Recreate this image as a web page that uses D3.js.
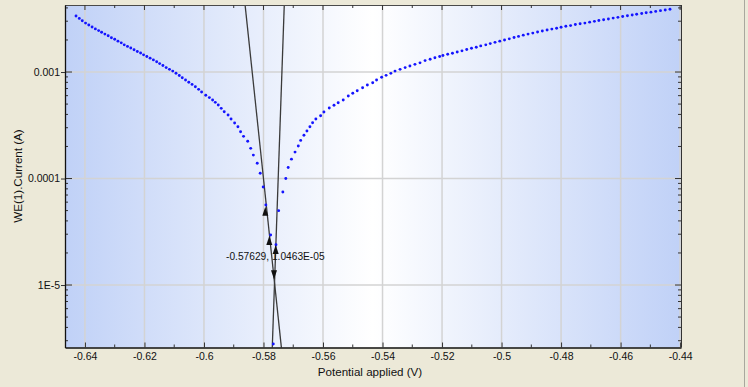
<!DOCTYPE html>
<html><head><meta charset="utf-8">
<script src="https://cdn.jsdelivr.net/npm/d3@7"></script>
<style>html,body{margin:0;padding:0;background:#ece9d8;overflow:hidden}svg{display:block}</style>
</head><body><svg id="c" width="748" height="387"></svg>
<script>
// Potential applied (V)
const potentials = [
-0.6430,-0.6419,-0.6409,-0.6398,-0.6387,-0.6376,-0.6365,-0.6354,-0.6344,-0.6333,
-0.6322,-0.6311,-0.6300,-0.6289,-0.6278,-0.6268,-0.6257,-0.6246,-0.6235,-0.6224,
-0.6213,-0.6203,-0.6192,-0.6181,-0.6170,-0.6159,-0.6149,-0.6138,-0.6127,-0.6116,
-0.6105,-0.6094,-0.6083,-0.6073,-0.6062,-0.6051,-0.6040,-0.6029,-0.6018,-0.6008,
-0.5994,-0.5982,-0.5971,-0.5962,-0.5952,-0.5942,-0.5932,-0.5919,-0.5909,-0.5897,
-0.5886,-0.5877,-0.5867,-0.5853,-0.5843,-0.5834,-0.5821,-0.5811,-0.5801,-0.5792,
-0.5776,-0.5767,
-0.5758,-0.5749,-0.5735,-0.5725,-0.5717,-0.5706,-0.5694,-0.5683,-0.5675,-0.5664,
-0.5654,-0.5644,-0.5635,-0.5624,-0.5608,-0.5597,-0.5579,-0.5563,-0.5549,-0.5532,
-0.5515,-0.5500,-0.5485,-0.5467,-0.5451,-0.5433,-0.5420,-0.5403,-0.5388,-0.5372,
-0.5358,-0.5341,-0.5324,-0.5308,-0.5291,-0.5274,-0.5257,-0.5240,-0.5224,-0.5208,
-0.5197,-0.5181,-0.5165,-0.5149,-0.5133,-0.5117,-0.5101,-0.5085,-0.5070,-0.5053,
-0.5038,-0.5022,-0.5006,-0.4990,-0.4974,-0.4958,-0.4943,-0.4927,-0.4911,-0.4895,
-0.4879,-0.4863,-0.4847,-0.4831,-0.4815,-0.4800,-0.4784,-0.4768,-0.4752,-0.4736,
-0.4720,-0.4704,-0.4688,-0.4673,-0.4657,-0.4641,-0.4625,-0.4609,-0.4593,-0.4577,
-0.4561,-0.4546,-0.4529,-0.4514,-0.4498,-0.4482,-0.4466,-0.4450,-0.4434
];
// WE(1).Current (A)
const currents = [
3.36e-3,3.19e-3,3.03e-3,2.88e-3,2.76e-3,2.65e-3,2.54e-3,2.45e-3,2.36e-3,2.27e-3,
2.19e-3,2.10e-3,2.03e-3,1.95e-3,1.88e-3,1.80e-3,1.74e-3,1.68e-3,1.62e-3,1.56e-3,
1.51e-3,1.45e-3,1.40e-3,1.35e-3,1.30e-3,1.25e-3,1.20e-3,1.15e-3,1.10e-3,1.06e-3,
1.02e-3,9.74e-4,9.27e-4,8.84e-4,8.43e-4,8.02e-4,7.65e-4,7.28e-4,6.88e-4,6.49e-4,
6.06e-4,5.75e-4,5.46e-4,5.19e-4,4.90e-4,4.56e-4,4.24e-4,3.95e-4,3.62e-4,3.32e-4,
3.06e-4,2.75e-4,2.49e-4,2.24e-4,1.92e-4,1.66e-4,1.39e-4,1.12e-4,8.32e-5,5.64e-5,
2.95e-5,2.79e-6,
2.39e-5,4.99e-5,7.47e-5,1.00e-4,1.27e-4,1.52e-4,1.77e-4,2.02e-4,2.28e-4,2.55e-4,
2.79e-4,3.06e-4,3.34e-4,3.62e-4,3.89e-4,4.21e-4,4.59e-4,4.87e-4,5.15e-4,5.46e-4,
5.95e-4,6.31e-4,6.68e-4,7.12e-4,7.55e-4,7.94e-4,8.41e-4,8.92e-4,9.31e-4,9.72e-4,
1.02e-3,1.06e-3,1.10e-3,1.14e-3,1.18e-3,1.22e-3,1.28e-3,1.32e-3,1.36e-3,1.40e-3,
1.43e-3,1.47e-3,1.50e-3,1.54e-3,1.58e-3,1.63e-3,1.67e-3,1.71e-3,1.76e-3,1.80e-3,
1.85e-3,1.90e-3,1.95e-3,2.00e-3,2.05e-3,2.11e-3,2.16e-3,2.22e-3,2.27e-3,2.32e-3,
2.38e-3,2.43e-3,2.48e-3,2.53e-3,2.58e-3,2.63e-3,2.69e-3,2.73e-3,2.79e-3,2.84e-3,
2.88e-3,2.94e-3,2.99e-3,3.05e-3,3.10e-3,3.15e-3,3.21e-3,3.26e-3,3.32e-3,3.38e-3,
3.43e-3,3.49e-3,3.54e-3,3.60e-3,3.65e-3,3.71e-3,3.77e-3,3.82e-3,3.88e-3
];
const xTickValues = [-0.64,-0.62,-0.60,-0.58,-0.56,-0.54,-0.52,-0.50,-0.48,-0.46,-0.44];
const xTickLabels = ["-0.64","-0.62","-0.6","-0.58","-0.56","-0.54","-0.52","-0.5","-0.48","-0.46","-0.44"];
const yTickValues = [1e-3,1e-4,1e-5];
const yTickLabels = ["0.001","0.0001","1E-5"];
const xDomain = [-0.6467,-0.4397];
const yDomain = [2.59e-6,4.26e-3];
// Tafel extrapolation lines (endpoints, V and A)
const tafelLineA_V = [-0.58645,-0.57356];
const tafelLineA_I = [5.01e-3,2.0e-6];
const tafelLineB_V = [-0.57293,-0.57719];
const tafelLineB_I = [5.01e-3,2.0e-6];
// corrosion point
const corrV = -0.57629, corrI = 1.0463e-5;
const corrLabel = "-0.57629, 1.0463E-05";
// arrow markers (tip positions)
const arrowV = [-0.57939,-0.57805,-0.57590,-0.57647];
const arrowI = [5.43e-5,2.88e-5,2.37e-5,1.13e-5];
const arrowDir = ["up","up","up","down"];
const xTitle = "Potential applied (V)";
const yTitle = "WE(1).Current (A)";

const W=748,H=387, L=65, T=5, R=681, B=347.5;
const svg=d3.select("#c");
const font='"Liberation Sans", Arial, sans-serif';
const x=d3.scaleLinear().domain(xDomain).range([L,R]);
const y=d3.scaleLog().domain(yDomain).range([B,T]);

const defs=svg.append("defs");
const g=defs.append("linearGradient").attr("id","bg").attr("x1","0").attr("x2","1").attr("y1","0").attr("y2","0");
g.append("stop").attr("offset","0").attr("stop-color","#c0d1f7");
g.append("stop").attr("offset","0.5").attr("stop-color","#ffffff");
g.append("stop").attr("offset","1").attr("stop-color","#c0d1f7");
defs.append("clipPath").attr("id","clip").append("rect").attr("x",L).attr("y",T).attr("width",R-L).attr("height",B-T);

svg.append("line").attr("x1",744.5).attr("x2",744.5).attr("y1",0).attr("y2",H).attr("stroke","#a9a89e");
svg.append("rect").attr("x",L).attr("y",T).attr("width",R-L).attr("height",B-T).attr("fill","url(#bg)");

// grid
const grid=svg.append("g").attr("stroke","#d3d3d3").attr("stroke-width",1.5);
xTickValues.forEach(v=>grid.append("line").attr("x1",x(v)).attr("x2",x(v)).attr("y1",T).attr("y2",B));
yTickValues.forEach(v=>grid.append("line").attr("x1",L).attr("x2",R).attr("y1",y(v)).attr("y2",y(v)));

const plot=svg.append("g").attr("clip-path","url(#clip)");
// tafel lines
const lineGen=d3.line().x(d=>x(d[0])).y(d=>y(d[1]));
[[tafelLineA_V,tafelLineA_I],[tafelLineB_V,tafelLineB_I]].forEach(([vs,is])=>{
  plot.append("path").attr("d",lineGen(vs.map((v,i)=>[v,is[i]]))).attr("fill","none").attr("stroke","#3a3a3a").attr("stroke-width",1.3);
});
// data dots
plot.selectAll("circle.d").data(potentials.map((v,i)=>[v,currents[i]])).enter().append("circle")
  .attr("cx",d=>x(d[0])).attr("cy",d=>y(d[1])).attr("r",1.45).attr("fill","#1414ff");
// arrows
arrowV.forEach((v,i)=>{
  const px=x(v), py=y(arrowI[i]), s=arrowDir[i]==="up"?1:-1;
  plot.append("path").attr("d",`M${px},${py}L${px-3},${py+9*s}L${px+3},${py+9*s}Z`).attr("fill","#111");
});
// label
svg.append("text").attr("x",x(corrV)-48.5).attr("y",y(corrI)-23).attr("font-family",font).attr("font-size",10.2)
  .attr("fill","#111").text(corrLabel);

// axes frame
svg.append("line").attr("x1",L).attr("x2",R).attr("y1",T+0.5).attr("y2",T+0.5).attr("stroke","#4a4a4a");
svg.append("line").attr("x1",R+0.5).attr("x2",R+0.5).attr("y1",T).attr("y2",B).attr("stroke","#333");

// bottom axis
const xAxis=d3.axisBottom(x).tickValues(xTickValues).tickFormat((d,i)=>xTickLabels[i]).tickSizeInner(-5).tickSizeOuter(0).tickPadding(5.5);
const gx=svg.append("g").attr("transform",`translate(0,${B})`).call(xAxis);
gx.select(".domain").attr("stroke","#111").attr("stroke-width",1.3);
gx.selectAll(".tick line").attr("stroke","#333");
gx.selectAll("text").attr("font-family",font).attr("font-size",10.5).attr("fill","#111");
// top ticks
const tt=svg.append("g").attr("stroke","#333");
const xMinor=d3.range(-0.63,-0.44,0.02);
xTickValues.forEach(v=>{tt.append("line").attr("x1",x(v)).attr("x2",x(v)).attr("y1",T).attr("y2",T+5);});
xMinor.forEach(v=>{tt.append("line").attr("x1",x(v)).attr("x2",x(v)).attr("y1",T).attr("y2",T+3);
  tt.append("line").attr("x1",x(v)).attr("x2",x(v)).attr("y1",B).attr("y2",B-3);});

// left axis
const yAxis=d3.axisLeft(y).tickValues(yTickValues).tickFormat((d,i)=>yTickLabels[i]).tickSizeInner(4).tickSizeOuter(0).tickPadding(1);
const gy=svg.append("g").attr("transform",`translate(${L},0)`).call(yAxis);
gy.select(".domain").attr("stroke","#111").attr("stroke-width",1.3);
gy.selectAll(".tick line").attr("stroke","#333");
gy.selectAll("text").attr("font-family",font).attr("font-size",10.5).attr("fill","#111");
const yMinor=y.ticks().filter(v=>{const l=Math.log10(v);return Math.abs(l-Math.round(l))>1e-6;});
yTickValues.forEach(v=>{
  tt.append("line").attr("x1",L).attr("x2",L+7).attr("y1",y(v)).attr("y2",y(v));
  tt.append("line").attr("x1",R).attr("x2",R-6).attr("y1",y(v)).attr("y2",y(v));
});
yMinor.forEach(v=>{
  tt.append("line").attr("x1",L).attr("x2",L+3).attr("y1",y(v)).attr("y2",y(v));
  tt.append("line").attr("x1",R).attr("x2",R-3).attr("y1",y(v)).attr("y2",y(v));
});

// titles
svg.append("text").attr("x",370).attr("y",375.5).attr("text-anchor","middle").attr("font-family",font).attr("font-size",11.6).attr("fill","#111").text(xTitle);
svg.append("text").attr("transform","translate(21.5,176) rotate(-90)").attr("text-anchor","middle").attr("font-family",font).attr("font-size",11.6).attr("fill","#111").text(yTitle);
</script></body></html>
